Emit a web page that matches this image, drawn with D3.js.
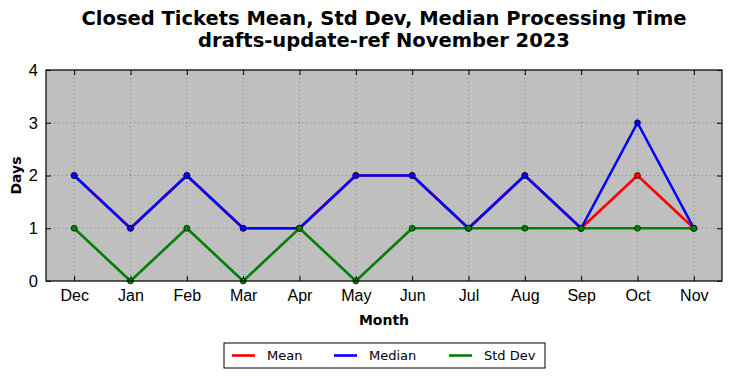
<!DOCTYPE html>
<html>
<head>
<meta charset="utf-8">
<script src="https://cdn.jsdelivr.net/npm/d3@7"></script>
<style>
  body { margin: 0; background: #fff; }
  svg { font-family: "DejaVu Sans", sans-serif; }
</style>
</head>
<body>
<svg id="chart" width="732" height="378"></svg>
<script>
const months   = ["Dec", "Jan", "Feb", "Mar", "Apr", "May", "Jun", "Jul", "Aug", "Sep", "Oct", "Nov"];
const meanVals = [2, 1, 2, 1, 1, 2, 2, 1, 2, 1, 2, 1];
const medVals  = [2, 1, 2, 1, 1, 2, 2, 1, 2, 1, 3, 1];
const stdVals  = [1, 0, 1, 0, 1, 0, 1, 1, 1, 1, 1, 1];
const yTicks   = [0, 1, 2, 3, 4];

const svg    = d3.select("#chart"),
      margin = {top: 70, right: 10, bottom: 97, left: 46},
      width  = +svg.attr("width")  - margin.left - margin.right,
      height = +svg.attr("height") - margin.top  - margin.bottom,
      x      = d3.scaleLinear().domain([-0.5, months.length - 0.5]).range([0, width]),
      y      = d3.scaleLinear().domain([0, 4]).range([height, 0]),
      g      = svg.append("g").attr("transform", `translate(${margin.left},${margin.top})`);

g.append("rect")
  .attr("width", width).attr("height", height)
  .attr("fill", "#bfbfbf");

// grid
g.selectAll(".gx").data(months).enter().append("line")
  .attr("x1", (d, i) => x(i)).attr("x2", (d, i) => x(i))
  .attr("y1", 0).attr("y2", height)
  .attr("stroke", "#707070").attr("stroke-width", 0.8).attr("stroke-dasharray", "1,3");
g.selectAll(".gy").data(yTicks).enter().append("line")
  .attr("x1", 0).attr("x2", width)
  .attr("y1", d => y(d)).attr("y2", d => y(d))
  .attr("stroke", "#707070").attr("stroke-width", 0.8).attr("stroke-dasharray", "1,3");

// axes with inward ticks
const xa = d3.axisBottom(x).tickValues(d3.range(months.length)).tickFormat(i => months[i]).tickSizeInner(-5).tickSizeOuter(0).tickPadding(9);
const ya = d3.axisLeft(y).tickValues(yTicks).tickFormat(d3.format("d")).tickSizeInner(-5).tickSizeOuter(0).tickPadding(8);
const gx = g.append("g").attr("transform", `translate(0,${height})`).call(xa);
const gy = g.append("g").call(ya);
g.append("g").call(d3.axisTop(x).tickValues(d3.range(months.length)).tickFormat("").tickSizeInner(-5).tickSizeOuter(0));
g.append("g").attr("transform", `translate(${width},0)`).call(d3.axisRight(y).tickValues(yTicks).tickFormat("").tickSizeInner(-5).tickSizeOuter(0));
g.selectAll(".domain").remove();
g.selectAll(".tick line").attr("stroke", "#000");
gx.selectAll("text").style("font-size", "16px").attr("fill", "#000");
gy.selectAll("text").style("font-size", "16.5px").attr("fill", "#000");

const series = [
  {name: "Mean",    vals: meanVals, color: "#ff0000"},
  {name: "Median",  vals: medVals,  color: "#0000ff"},
  {name: "Std Dev", vals: stdVals,  color: "#008000"}
];

const line = d3.line().x((d, i) => x(i)).y(d => y(d));

series.forEach(s => {
  g.append("path")
    .datum(s.vals)
    .attr("d", line)
    .attr("fill", "none")
    .attr("stroke", s.color)
    .attr("stroke-width", 2.6)
    .attr("stroke-linejoin", "round");
  g.selectAll(null).data(s.vals).enter().append("circle")
    .attr("cx", (d, i) => x(i)).attr("cy", d => y(d))
    .attr("r", 3)
    .attr("fill", s.color)
    .attr("stroke", "#000").attr("stroke-width", 0.6);
});

// frame
g.append("rect")
  .attr("width", width).attr("height", height)
  .attr("fill", "none").attr("stroke", "#000").attr("stroke-width", 1.2);

// title
svg.append("text")
  .attr("x", margin.left + width / 2).attr("y", 25)
  .attr("text-anchor", "middle")
  .style("font-size", "19.5px").style("font-weight", "bold")
  .text("Closed Tickets Mean, Std Dev, Median Processing Time");
svg.append("text")
  .attr("x", margin.left + width / 2).attr("y", 47)
  .attr("text-anchor", "middle")
  .style("font-size", "19.5px").style("font-weight", "bold")
  .text("drafts-update-ref November 2023");

// axis labels
svg.append("text")
  .attr("x", margin.left + width / 2).attr("y", 325)
  .attr("text-anchor", "middle")
  .style("font-size", "14px").style("font-weight", "bold")
  .text("Month");
svg.append("text")
  .attr("transform", `translate(21,${margin.top + height / 2}) rotate(-90)`)
  .attr("text-anchor", "middle")
  .style("font-size", "14px").style("font-weight", "bold")
  .text("Days");

// legend
const lg = svg.append("g").attr("transform", "translate(224,343)");
lg.append("rect")
  .attr("width", 321).attr("height", 25)
  .attr("fill", "#fff").attr("stroke", "#000").attr("stroke-width", 1);
const legX = [8, 110, 225];
series.forEach((s, i) => {
  lg.append("line")
    .attr("x1", legX[i]).attr("x2", legX[i] + 23)
    .attr("y1", 12.5).attr("y2", 12.5)
    .attr("stroke", s.color).attr("stroke-width", 2.6);
  lg.append("text")
    .attr("x", legX[i] + 35).attr("y", 17)
    .style("font-size", "13px")
    .text(s.name);
});
</script>
</body>
</html>
